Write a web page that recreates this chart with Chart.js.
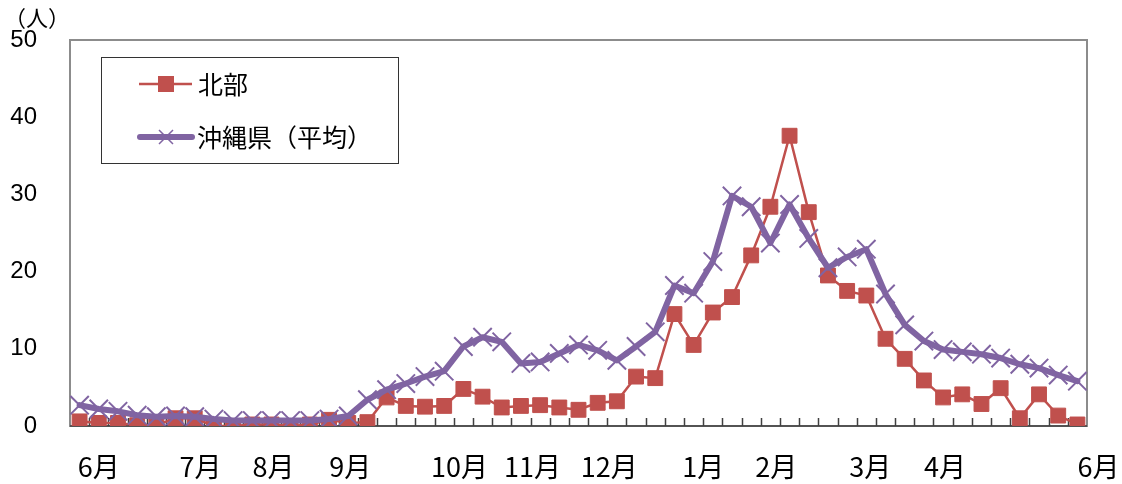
<!DOCTYPE html>
<html lang="ja">
<head>
<meta charset="utf-8">
<script src="https://cdn.jsdelivr.net/npm/chart.js@4/dist/chart.umd.min.js"></script>
<style>
    html, body { margin: 0; padding: 0; background: #fff; }
    #wrap { width: 1122px; height: 484px; position: relative; }
</style>
</head>
<body>
<div id="wrap"><canvas id="chart" width="1122" height="484"></canvas></div>
<script>
// Weekly counts, June to the following June (53 weeks)
const weeks = Array.from({ length: 53 }, (_, i) => i + 1);

const hokubu = [
    0.6, 0.4, 0.4, 0.1, 0.1, 1.0, 1.0, 0, 0, 0.2,
    0.2, 0, 0.2, 0.8, 0.4, 0.5, 3.7, 2.6, 2.5, 2.6,
    4.8, 3.8, 2.4, 2.6, 2.7, 2.4, 2.1, 3.0, 3.2, 6.4,
    6.2, 14.5, 10.5, 14.7, 16.7, 22.1, 28.4, 37.6, 27.7, 19.5,
    17.5, 16.9, 11.3, 8.7, 5.9, 3.7, 4.1, 2.85, 4.9, 1.0,
    4.1, 1.35, 0.2
];

const okinawaAvg = [
    2.7, 2.2, 1.9, 1.4, 1.2, 1.3, 1.2, 0.9, 0.7, 0.7,
    0.7, 0.7, 0.7, 0.9, 1.3, 3.4, 4.7, 5.5, 6.4, 7.1,
    10.3, 11.5, 10.9, 8.1, 8.3, 9.4, 10.5, 9.8, 8.5, 10.3,
    12.2, 18.2, 17.2, 21.3, 29.8, 28.4, 23.7, 28.7, 24.3, 20.5,
    21.9, 22.9, 17.1, 13.1, 11.0, 9.9, 9.6, 9.3, 8.8, 8.0,
    7.5, 6.6, 5.8
];

// Month labels and the week index they sit over
const monthLabels = ['6月', '7月', '8月', '9月', '10月', '11月', '12月', '1月', '2月', '3月', '4月', '6月'];
const monthAt = [1.0, 6.3, 10.1, 14.1, 19.8, 23.6, 27.6, 32.5, 36.3, 41.2, 45.1, 53.1];

const seriesNames = ['北部', '沖縄県（平均）'];

const RED = '#C0504D';
const PURPLE = '#8064A2';
const JP_FONT = '"Noto Sans CJK JP", "Noto Sans", sans-serif';

/**
 * Draws the plot frame, inward tick marks, month labels, unit and legend box.
 */
const decorations = {
    id: 'decorations',
    beforeDatasetsDraw(chart) {
        const { ctx, chartArea: a, scales: { x } } = chart;
        ctx.save();
        ctx.strokeStyle = '#8c8c8c';
        ctx.lineWidth = 2;
        ctx.strokeRect(a.left, a.top, a.right - a.left, a.bottom - a.top);

        // bottom axis and tick marks between weeks
        ctx.strokeStyle = '#404040';
        ctx.lineWidth = 1.5;
        ctx.beginPath();
        ctx.moveTo(a.left, a.bottom);
        ctx.lineTo(a.right, a.bottom);
        for (let i = 0; i < weeks.length - 1; i++) {
            const px = Math.round(x.getPixelForValue(i + 0.5)) + 0.5;
            ctx.moveTo(px, a.bottom);
            ctx.lineTo(px, a.bottom - 8);
        }
        ctx.stroke();
        ctx.restore();
    },
    afterDraw(chart) {
        const { ctx, chartArea: a, scales: { x } } = chart;
        ctx.save();
        ctx.fillStyle = '#000';
        ctx.textBaseline = 'middle';

        // month labels
        ctx.font = '27px ' + JP_FONT;
        ctx.textAlign = 'center';
        monthLabels.forEach((label, i) => {
            ctx.fillText(label, x.getPixelForValue(monthAt[i]), a.bottom + 41);
        });

        // unit
        ctx.textAlign = 'left';
        ctx.font = '22px ' + JP_FONT;
        ctx.fillText('（人）', 4, 18);

        // legend box
        ctx.strokeStyle = '#333';
        ctx.lineWidth = 1;
        ctx.strokeRect(101.5, 57.5, 297, 106);

        // 北部 entry
        ctx.strokeStyle = RED;
        ctx.lineWidth = 2.5;
        ctx.beginPath();
        ctx.moveTo(139, 84);
        ctx.lineTo(192, 84);
        ctx.stroke();
        ctx.fillStyle = RED;
        ctx.fillRect(158, 76, 16, 16);

        // 沖縄県（平均） entry
        ctx.strokeStyle = PURPLE;
        ctx.lineWidth = 6;
        ctx.lineCap = 'round';
        ctx.beginPath();
        ctx.moveTo(140, 137);
        ctx.lineTo(192, 137);
        ctx.stroke();
        ctx.lineWidth = 1.5;
        ctx.lineCap = 'butt';
        ctx.beginPath();
        ctx.moveTo(159, 130);
        ctx.lineTo(173, 144);
        ctx.moveTo(173, 130);
        ctx.lineTo(159, 144);
        ctx.stroke();

        ctx.fillStyle = '#000';
        ctx.font = '25px ' + JP_FONT;
        ctx.fillText(seriesNames[0], 198, 84);
        ctx.fillText(seriesNames[1], 197, 137);
        ctx.restore();
    }
};

new Chart(document.getElementById('chart'), {
    type: 'line',
    data: {
        labels: weeks,
        datasets: [
            {
                label: seriesNames[0],
                data: hokubu,
                order: 1,
                borderColor: RED,
                backgroundColor: RED,
                borderWidth: 2.5,
                pointStyle: 'rect',
                pointRadius: 10.5,
                pointBorderWidth: 1,
                pointBorderColor: RED,
                pointBackgroundColor: RED,
                tension: 0
            },
            {
                label: seriesNames[1],
                data: okinawaAvg,
                order: 0,
                borderColor: PURPLE,
                backgroundColor: PURPLE,
                borderWidth: 6,
                borderJoinStyle: 'round',
                borderCapStyle: 'round',
                pointStyle: 'crossRot',
                pointRadius: 13,
                pointBorderWidth: 2,
                pointBorderColor: PURPLE,
                tension: 0
            }
        ]
    },
    options: {
        responsive: false,
        animation: false,
        events: [],
        layout: {
            padding: { left: 0, right: 35, top: 40, bottom: 58 }
        },
        plugins: {
            legend: { display: false },
            tooltip: { enabled: false }
        },
        scales: {
            x: {
                type: 'category',
                offset: true,
                grid: { display: false },
                border: { display: false },
                ticks: { display: false },
                afterFit(scale) { scale.height = 0; }
            },
            y: {
                min: 0,
                max: 50,
                grid: { display: false, drawTicks: false },
                border: { display: false },
                ticks: {
                    stepSize: 10,
                    padding: 33,
                    color: '#000',
                    font: { family: '"Liberation Sans", Arial, sans-serif', size: 24 }
                },
                afterFit(scale) {
                    // the label gap should not push the plot area down
                    scale.width = 70;
                    scale.paddingTop = 0;
                    scale.paddingBottom = 0;
                }
            }
        }
    },
    plugins: [decorations]
});
</script>
</body>
</html>
